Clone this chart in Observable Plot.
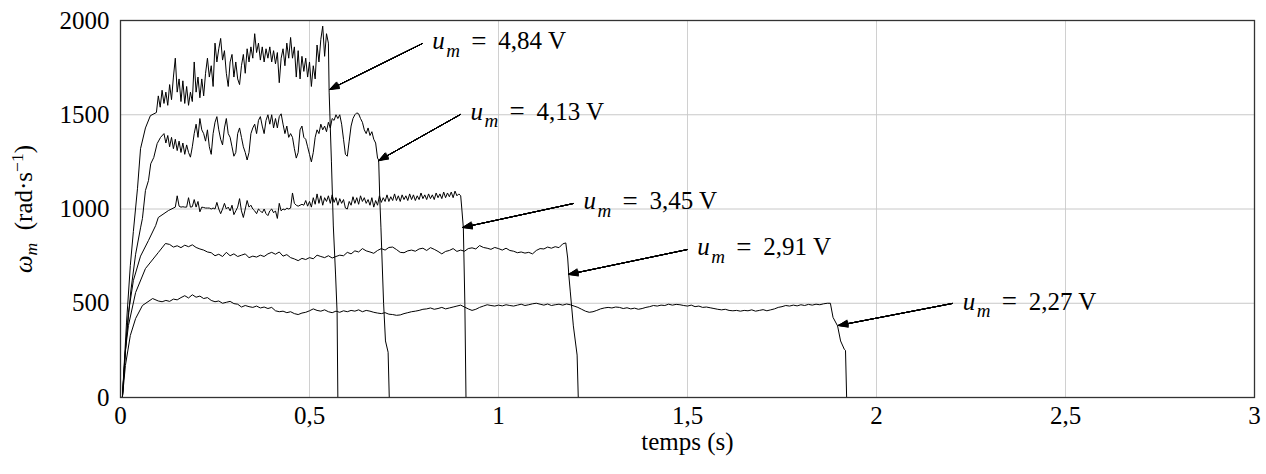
<!DOCTYPE html>
<html><head><meta charset="utf-8">
<script src="https://cdn.jsdelivr.net/npm/d3@7"></script>
<script src="https://cdn.jsdelivr.net/npm/@observablehq/plot@0.6"></script>
<style>
html,body{margin:0;padding:0;background:#fff;}
#chart svg{display:block;}
#chart svg text{font-family:"Liberation Serif","Times New Roman",serif !important;}
</style>
</head><body><div id="chart"></div>
<script>
// ---------- axes ----------
const xTicks = [0, 0.5, 1, 1.5, 2, 2.5, 3];
const yTicks = [0, 500, 1000, 1500, 2000];

// ---------- series labels ----------
const seriesNames = ["4,84 V", "4,13 V", "3,45 V", "2,91 V", "2,27 V"];

// ---------- u_m = 4,84 V ----------
const rise484 = [[0,0],[0.005,0],[0.016,400],[0.026,700],[0.034,880],[0.045,1110],[0.053,1320],[0.066,1430],[0.079,1495],[0.095,1512]];
const start484 = 0.1, step484 = 0.005;
const plateau484 = [
  1600,1540,1630,1560,1620,1550,1660,1580,1700,1800,
  1620,1690,1570,1680,1560,1650,1550,1620,1570,1780,
  1620,1700,1590,1690,1600,1720,1800,1700,1760,1650,
  1880,1780,1850,1905,1790,1840,1720,1650,1780,1820,
  1700,1780,1690,1660,1760,1820,1720,1850,1780,1860,
  1800,1930,1830,1880,1790,1860,1780,1850,1800,1860,
  1780,1840,1770,1830,1670,1800,1850,1760,1880,1800,
  1910,1800,1860,1700,1840,1690,1810,1730,1800,1700,
  1780,1650,1760,1690,1870,1780,1900,1970,1810,1930];
const fall484 = [[0.55,1880],[0.552,1620],[0.558,1250],[0.563,910],[0.569,650],[0.573,450],[0.575,0]];

// ---------- u_m = 4,13 V ----------
const rise413 = [[0,0],[0.005,0],[0.015,300],[0.027,560],[0.04,760],[0.053,900],[0.058,950],[0.066,1098],[0.074,1151],[0.08,1240],[0.088,1273],[0.097,1347],[0.106,1380]];
const start413 = 0.115, step413 = 0.005;
const plateau413 = [
  1400,1350,1390,1330,1380,1320,1370,1310,1360,1300,
  1350,1290,1340,1300,1275,1330,1400,1450,1380,1480,
  1420,1400,1360,1420,1330,1290,1400,1460,1490,1420,
  1370,1340,1430,1480,1400,1380,1330,1280,1300,1400,
  1430,1380,1330,1300,1260,1300,1400,1430,1450,1400,
  1470,1490,1440,1400,1470,1500,1450,1500,1430,1480,
  1430,1490,1505,1450,1400,1440,1380,1400,1380,1320,
  1270,1300,1420,1440,1380,1370,1330,1290,1250,1300,
  1380,1420,1400,1450,1420,1440,1410,1460,1430,1480,
  1470,1500,1480,1500,1450,1370,1290,1280,1360,1440,
  1480,1500,1510,1505,1480,1460,1420,1400,1430,1390,
  1410,1370,1350,1270];
const fall413 = [[0.683,1260],[0.686,1050],[0.689,900],[0.696,500],[0.701,300],[0.708,240],[0.711,0]];

// ---------- u_m = 3,45 V ----------
const rise345 = [[0,0],[0.005,0],[0.011,200],[0.021,450],[0.034,620],[0.053,750],[0.074,833],[0.093,912],[0.1,955],[0.127,992],[0.145,1010]];
const start345 = 0.15, step345 = 0.005;
const plateau345 = [
  1070,1015,1010,1012,1010,1010,1060,1010,1012,1050,
  1010,1040,985,1010,1008,1005,1005,1005,1000,1005,
  1000,1035,1000,975,1000,1030,1000,1010,990,1020,
  970,990,1010,1055,990,955,1000,1045,1010,1020,
  1000,990,975,1000,990,980,1000,975,965,990,
  1000,980,990,950,1030,990,1000,995,1005,1000,
  1005,1085,1030,1020,1015,1020,1025,1020,1045,1015,
  1040,1010,1060,1025,1080,1030,1070,1020,1060,1040,
  1070,1030,1075,1035,1060,1020,1055,1030,1050,1005,
  1000,1040,1020,1065,1030,1060,1025,1070,1040,1060,
  1030,1050,1020,1060,1010,1045,1020,1070,1035,1060,
  1040,1075,1040,1065,1045,1080,1045,1070,1040,1075,
  1050,1070,1045,1080,1050,1075,1045,1070,1050,1085,
  1055,1075,1050,1080,1055,1075,1050,1085,1060,1080,
  1055,1090,1060,1085,1065,1090,1060,1095,1070,1080];
const fall345 = [[0.9,1070],[0.903,1000],[0.907,900],[0.911,500],[0.914,0]];

// ---------- u_m = 2,91 V ----------
const rise291 = [[0,0],[0.005,0],[0.013,250],[0.021,382],[0.04,557],[0.066,684],[0.1,769],[0.119,817]];
const start291 = 0.13, step291 = 0.01;
const plateau291 = [
  812,798,805,795,808,800,810,796,788,782,
  772,768,752,760,748,770,752,762,748,755,
  762,742,750,745,755,748,762,770,760,772,
  750,758,742,735,726,738,732,742,736,755,
  748,742,752,740,748,755,752,770,762,778,
  772,790,778,772,765,780,790,782,796,798,
  785,770,768,778,782,776,788,792,780,795,
  786,775,762,775,780,790,775,782,776,790,
  794,788,806,796,792,786,796,790,782,792,
  780,776,768,772,766,770,762,780,790,788,
  798,792,800,795,815];
const fall291 = [[1.178,820],[1.183,740],[1.186,650],[1.19,560],[1.198,380],[1.208,225],[1.211,0]];

// ---------- u_m = 2,27 V ----------
const rise227 = [[0,0],[0.005,0],[0.013,170],[0.026,329],[0.04,419],[0.058,488],[0.085,525]];
const start227 = 0.1, step227 = 0.01;
const plateau227 = [
  512,508,515,510,522,518,530,540,528,545,
  532,538,525,530,515,508,512,500,505,510,
  498,495,480,488,482,478,485,475,480,472,
  478,460,455,458,450,455,445,440,448,452,
  460,470,462,458,465,455,450,458,452,460,
  455,462,458,465,455,462,458,452,448,445,
  450,442,440,436,438,445,450,455,458,462,
  468,470,475,468,472,478,470,475,480,485,
  490,480,470,462,468,478,485,492,488,485,
  490,486,492,488,485,490,495,488,492,497,
  500,495,490,496,488,492,495,490,496,492,
  485,478,468,458,452,455,462,470,475,478,
  475,480,478,472,476,470,474,468,472,478,
  482,488,485,490,488,495,490,494,492,488,
  485,490,482,485,478,480,476,472,468,465,
  468,462,460,462,458,462,460,465,458,462,
  466,460,465,470,478,482,488,485,490,486,
  492,488,494,490,495,492,497,500];
const fall227 = [[1.878,500],[1.885,425],[1.897,380],[1.905,300],[1.915,255],[1.918,250],[1.921,0]];

// ---------- annotations (data coordinates) ----------
const labelT = [0.825, 0.926, 1.225, 1.526, 2.228];
const labelV = [1889, 1517, 1040, 796, 509];
const arrowFromT = [0.799, 0.899, 1.198, 1.5, 2.201];
const arrowFromV = [1878, 1501, 1029, 785, 499];
const arrowToT = [0.553, 0.683, 0.905, 1.185, 1.899];
const arrowToV = [1634, 1257, 902, 653, 382];

// ---------- build table ----------
function assemble(name, rise, start, step, plateau, fall) {
  const rows = rise.map(([t, v]) => ({name, t, v}));
  plateau.forEach((v, i) => rows.push({name, t: +(start + i * step).toFixed(4), v}));
  fall.forEach(([t, v]) => rows.push({name, t, v}));
  return rows;
}
const data = [
  ...assemble(seriesNames[0], rise484, start484, step484, plateau484, fall484),
  ...assemble(seriesNames[1], rise413, start413, step413, plateau413, fall413),
  ...assemble(seriesNames[2], rise345, start345, step345, plateau345, fall345),
  ...assemble(seriesNames[3], rise291, start291, step291, plateau291, fall291),
  ...assemble(seriesNames[4], rise227, start227, step227, plateau227, fall227)
];
const ann = seriesNames.map((name, i) => ({
  name, lt: labelT[i], lv: labelV[i],
  x1: arrowFromT[i], y1: arrowFromV[i], x2: arrowToT[i], y2: arrowToV[i]
}));

const fanAngles = [6, 12, 18, 24, 30, 36, 42];
const arrows = fanAngles.map(a => Plot.arrow(ann, {
  x1: "x1", y1: "y1", x2: "x2", y2: "y2",
  stroke: "black", strokeWidth: 1, headAngle: a, headLength: 15
}));

const fmt = d => String(d).replace(".", ",");
const serif = "'Liberation Serif', 'Times New Roman', serif";

const chart = Plot.plot({
  width: 1266,
  height: 474,
  marginLeft: 120,
  marginRight: 12,
  marginTop: 20,
  marginBottom: 77,
  style: {fontFamily: serif, fontSize: "25px", color: "black", background: "white"},
  x: {domain: [0, 3], ticks: xTicks, tickFormat: fmt, tickSize: 0, tickPadding: 9, label: null},
  y: {domain: [0, 2000], ticks: yTicks, tickFormat: d => String(d), tickSize: 0, tickPadding: 11, label: null},
  marks: [
    Plot.ruleX(xTicks, {stroke: "#d0d0d0", strokeWidth: 1}),
    Plot.ruleY(yTicks, {stroke: "#c8c8c8", strokeWidth: 1}),
    Plot.line(data, {x: "t", y: "v", z: "name", stroke: "black", strokeWidth: 1}),
    ...arrows,
    Plot.text(ann, {x: "lt", y: "lv", text: () => "u", textAnchor: "start", fontStyle: "italic", fontSize: 25}),
    Plot.text(ann, {x: "lt", y: "lv", text: () => "m", textAnchor: "start", fontStyle: "italic", fontSize: 19, dx: 14, dy: 9}),
    Plot.text(ann, {x: "lt", y: "lv", text: () => "=", textAnchor: "start", fontSize: 27, dx: 39}),
    Plot.text(ann, {x: "lt", y: "lv", text: "name", textAnchor: "start", fontSize: 25, dx: 66}),
    Plot.text(["temps (s)"], {frameAnchor: "bottom", lineAnchor: "middle", text: d => d, dy: 44, fontSize: 25}),
    Plot.frame({stroke: "#333", strokeWidth: 1.3})
  ]
});

document.getElementById("chart").appendChild(chart);

// y-axis label with math-style subscript / superscript
const yl = d3.select(chart).append("text")
  .attr("transform", "translate(32,209) rotate(-90)")
  .attr("text-anchor", "middle")
  .attr("font-size", 25)
  .attr("font-family", serif)
  .attr("fill", "black");
yl.append("tspan").attr("font-style", "italic").text("ω");
yl.append("tspan").attr("font-style", "italic").attr("font-size", 17.5).attr("dy", 5).text("m");
yl.append("tspan").attr("dy", -5).text("\u2002(rad·s");
yl.append("tspan").attr("font-size", 17.5).attr("dy", -9).text("−1");
yl.append("tspan").attr("dy", 9).text(")");
</script>
</body></html>
